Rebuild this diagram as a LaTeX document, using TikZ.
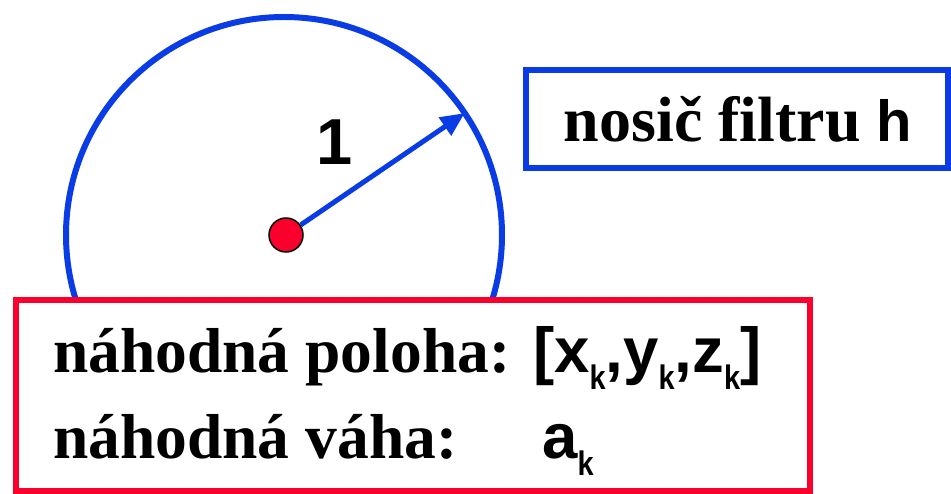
\documentclass[tikz,border=0pt]{standalone}
\usepackage{fontspec}
\usepackage{graphicx}
\setmainfont{Liberation Serif}
\setsansfont{Liberation Sans}
\usetikzlibrary{arrows.meta, positioning}
\definecolor{SupportBlue}{RGB}{10,60,230}
\definecolor{SampleRed}{RGB}{250,0,45}
\newcommand{\bigtxt}{\fontsize{63.5}{70}\selectfont\bfseries}
\newcommand{\subk}{\raisebox{-17pt}{\scalebox{0.85}[1]{\fontsize{34}{34}\selectfont k}}}

\begin{document}
\begin{tikzpicture}[x=1pt, y=-1pt,
    lbl/.style={inner sep=0pt, anchor=base west, font=\bigtxt},
    boxline/.style={line width=6.5pt}]
    \useasboundingbox (0,0) rectangle (951,494);

    % Filter support circle
    \node[circle, draw=SupportBlue, line width=6pt, minimum size=436pt, outer sep=0pt] (support) at (284,235) {};

    % Random sample box (covers the lower part of the circle)
    \draw[boxline, draw=SampleRed, fill=white] (16,300) rectangle (810,491);

    % Centre point and unit radius
    \node[circle, fill=SampleRed, draw=black, line width=1.5pt, minimum size=34pt, inner sep=0pt] (centre) at (286,235) {};
    \draw[-{Triangle[length=24pt, width=21pt]}, color=SupportBlue, line width=5pt] (centre) -- (support.34.5);
    \node[inner sep=0pt, anchor=base, font=\fontsize{65}{70}\selectfont\sffamily\bfseries] (radius) at (335,165) {1};

    % Support label
    \node[boxline, draw=SupportBlue, minimum width=422pt, minimum height=98pt, inner sep=0pt] (supportbox) at (737,119) {};
    \node[inner sep=0pt, anchor=base, font=\fontsize{64}{70}\selectfont\bfseries] (supportlbl) at (738,142) {nosič filtru {\sffamily\fontsize{58}{70}\selectfont h}};

    % Position and weight
    \node[lbl] (poslbl) at (53,373) {náhodná poloha:};
    \node[lbl, font=\bigtxt\sffamily] (posval) at (533,373) {[x\subk,y\subk,z\subk]};
    \node[lbl] (wtlbl) at (53,458) {náhodná váha:};
    \node[lbl, font=\bigtxt\sffamily] (wtval) at (542,458) {a\subk};
\end{tikzpicture}
\end{document}
